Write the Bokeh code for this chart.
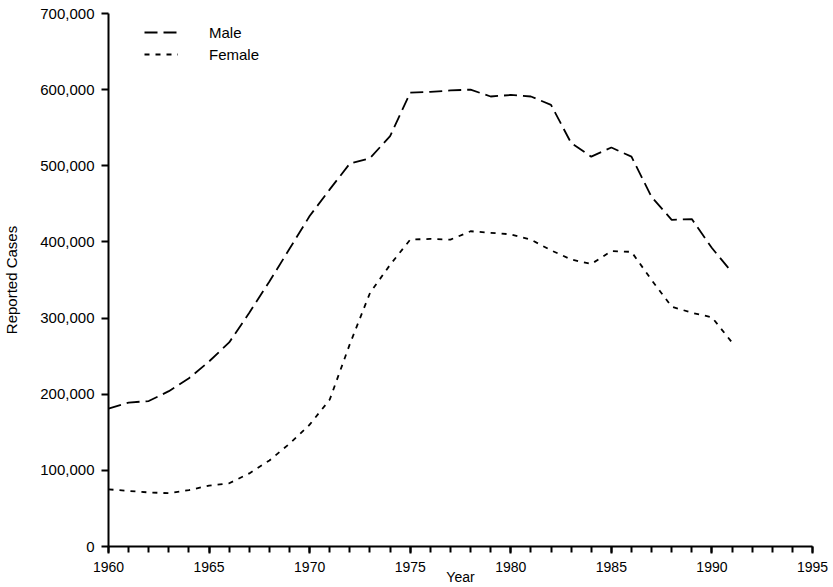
from bokeh.plotting import figure
from bokeh.models import (SingleIntervalTicker, FixedTicker, NumeralTickFormatter,
                          Legend, LegendItem, Range1d)
from bokeh.embed import file_html
from bokeh.resources import INLINE

# ---- data ----
years = list(range(1960, 1992))
male = [181000, 189000, 191000, 204000, 221000, 243000, 268000, 307000,
        348000, 391000, 434000, 469000, 503000, 510000, 539000, 596000,
        597000, 599000, 600000, 591000, 593000, 591000, 580000, 530000,
        512000, 524000, 512000, 459000, 429000, 430000, 392000, 360000]
female = [75000, 73000, 71000, 70000, 74000, 80000, 83000, 96000,
          113000, 135000, 160000, 193000, 266000, 333000, 370000, 403000,
          404000, 403000, 414000, 412000, 410000, 403000, 389000, 377000,
          371000, 388000, 387000, 350000, 315000, 307000, 301000, 268000]
x_ticks = [1960, 1965, 1970, 1975, 1980, 1985, 1990, 1995]
y_ticks = [0, 100000, 200000, 300000, 400000, 500000, 600000, 700000]
series_labels = ["Male", "Female"]

FONT = "Liberation Sans"

p = figure(width=833, height=587, output_backend="svg", toolbar_location=None,
           x_range=Range1d(x_ticks[0], x_ticks[-1]),
           y_range=Range1d(y_ticks[0], y_ticks[-1]),
           min_border_left=108, min_border_right=21, min_border_top=13,
           min_border_bottom=41)
p.outline_line_color = None
p.grid.visible = False
p.background_fill_color = "white"
p.border_fill_color = "white"

rm = p.line(years, male, line_color="black", line_width=1.8, line_dash="13 6")
rf = p.line(years, female, line_color="black", line_width=1.8, line_dash="5 6")

# x axis
xa = p.xaxis[0]
xa.ticker = SingleIntervalTicker(interval=5, num_minor_ticks=5)
xa.axis_line_width = 2
xa.axis_line_color = "black"
xa.major_tick_line_width = 2
xa.minor_tick_line_width = 2
xa.major_tick_line_color = "black"
xa.minor_tick_line_color = "black"
xa.major_tick_in = 0
xa.major_tick_out = 7
xa.minor_tick_in = 0
xa.minor_tick_out = 6
xa.major_label_text_font = FONT
xa.major_label_text_font_size = "14px"
xa.major_label_text_color = "black"
xa.major_label_standoff = 8
xa.axis_label = "Year"
xa.axis_label_text_font = FONT
xa.axis_label_text_font_size = "14px"
xa.axis_label_text_font_style = "normal"
xa.axis_label_text_color = "black"
xa.axis_label_standoff = -6

# y axis
ya = p.yaxis[0]
ya.ticker = FixedTicker(ticks=y_ticks)
ya.formatter = NumeralTickFormatter(format="0,0")
ya.axis_line_width = 2
ya.axis_line_color = "black"
ya.major_tick_line_width = 2
ya.major_tick_line_color = "black"
ya.minor_tick_line_color = None
ya.major_tick_in = 0
ya.major_tick_out = 7
ya.major_label_text_font = FONT
ya.major_label_text_font_size = "15px"
ya.major_label_text_color = "black"
ya.major_label_standoff = 7
ya.axis_label = "Reported Cases"
ya.axis_label_text_font = FONT
ya.axis_label_text_font_size = "15px"
ya.axis_label_text_font_style = "normal"
ya.axis_label_text_color = "black"
ya.axis_label_standoff = 17

legend = Legend(items=[LegendItem(label=series_labels[0], renderers=[rm]),
                       LegendItem(label=series_labels[1], renderers=[rf])],
                location=(36, 482), padding=0, margin=0, spacing=2,
                glyph_width=34, glyph_height=20, label_height=20,
                label_standoff=31, border_line_color=None,
                background_fill_alpha=0,
                label_text_font=FONT, label_text_font_size="15px",
                label_text_color="black")
p.add_layout(legend)

open("out.html", "w").write(file_html(p, INLINE))
